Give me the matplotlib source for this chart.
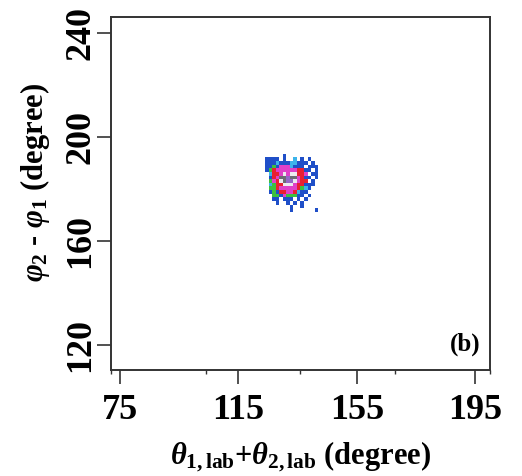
import numpy as np
import matplotlib
matplotlib.use('Agg')
import matplotlib.pyplot as plt
from matplotlib.colors import ListedColormap, BoundaryNorm

plt.rcParams['font.family'] = ['Liberation Serif', 'DejaVu Serif']
plt.rcParams['font.weight'] = 'bold'
plt.rcParams['axes.labelweight'] = 'bold'
plt.rcParams['mathtext.fontset'] = 'custom'
plt.rcParams['mathtext.rm'] = 'Liberation Serif:bold'
plt.rcParams['mathtext.it'] = 'Liberation Serif:italic:bold'
plt.rcParams['mathtext.bf'] = 'Liberation Serif:bold'

# bin edges of the 2d histogram (degree)
x_edges = np.arange(124.0, 143.3, 1.2)
y_edges = np.arange(171.2, 193.7, 1.4)

# counts level per cell, top row first (0 = empty)
counts = [
    [0, 0, 0, 0, 0, 1, 0, 0, 0, 0, 0, 0, 0, 0, 0, 0],
    [1, 1, 1, 1, 0, 1, 0, 0, 2, 0, 1, 0, 1, 0, 0, 0],
    [1, 1, 1, 2, 1, 1, 1, 2, 2, 1, 1, 1, 0, 1, 0, 0],
    [1, 1, 3, 1, 4, 4, 4, 2, 1, 1, 1, 0, 1, 1, 1, 0],
    [1, 3, 5, 4, 4, 4, 4, 4, 4, 5, 5, 1, 1, 0, 1, 0],
    [0, 2, 5, 5, 4, 8, 4, 8, 8, 5, 5, 4, 0, 1, 1, 0],
    [0, 1, 5, 4, 7, 7, 6, 7, 7, 4, 5, 1, 1, 0, 1, 0],
    [0, 3, 4, 5, 8, 7, 6, 6, 8, 4, 5, 5, 0, 1, 0, 0],
    [0, 2, 3, 5, 5, 8, 8, 8, 4, 5, 5, 1, 1, 1, 0, 0],
    [0, 3, 3, 5, 4, 4, 4, 4, 4, 5, 3, 2, 1, 0, 0, 0],
    [0, 1, 3, 1, 5, 5, 4, 4, 5, 2, 1, 1, 0, 0, 0, 0],
    [0, 0, 3, 3, 1, 4, 3, 3, 3, 1, 1, 0, 1, 0, 0, 0],
    [0, 0, 1, 1, 0, 1, 1, 1, 0, 1, 0, 1, 0, 0, 0, 0],
    [0, 0, 0, 1, 0, 0, 1, 0, 1, 0, 1, 0, 0, 0, 0, 0],
    [0, 0, 0, 0, 0, 0, 0, 1, 0, 0, 1, 0, 0, 0, 0, 0],
    [0, 0, 0, 0, 0, 0, 0, 1, 0, 0, 0, 0, 0, 0, 1, 0],
]

x_ticks = [75, 115, 155, 195]
x_minor = [72, 104, 136, 168, 200]
y_ticks = [120, 160, 200, 240]

level_colors = ['#1f4fc8', '#3cb4ea', '#3cc040', '#e040c8', '#e82030',
                '#9468c8', '#6c6c74', '#ececf0']

fig = plt.figure(figsize=(5.22, 4.76), dpi=100)
ax = fig.add_axes([0.2126, 0.2227, 0.7261, 0.7416])

z = np.ma.masked_equal(np.array(counts)[::-1], 0)
cmap = ListedColormap(level_colors)
norm = BoundaryNorm(np.arange(0.5, 9.5, 1), cmap.N)
ax.pcolormesh(x_edges, y_edges, z, cmap=cmap, norm=norm)

ax.set_xlim(72, 200)
ax.set_ylim(110.4, 246.2)
ax.set_xticks(x_ticks)
ax.set_xticks(x_minor, minor=True)
ax.set_yticks(y_ticks)
ax.set_yticklabels([str(v) for v in y_ticks], rotation=90, va='center')

for s in ax.spines.values():
    s.set_color('#333333')
    s.set_linewidth(1.4)
ax.tick_params(axis='both', which='major', direction='out', length=10, width=1.2,
               color='#333333', labelsize=26, pad=0)
ax.tick_params(axis='x', which='major', pad=7)
ax.tick_params(axis='x', which='minor', direction='out', length=3, width=1.0, color='#333333')

ax.set_xlabel(r'$\theta_{\mathbf{1,lab}}$+$\theta_{\mathbf{2,lab}}$ (degree)', fontsize=22, labelpad=9)
ax.set_ylabel(r'$\varphi_{\mathbf{2}}$ - $\varphi_{\mathbf{1}}$ (degree)', fontsize=22)
ax.yaxis.set_label_coords(-0.155, 0.53)

ax.text(0.975, 0.04, '(b)', transform=ax.transAxes, ha='right', va='bottom',
        fontsize=18, fontweight='bold')

fig.savefig('out.png', dpi=100)
